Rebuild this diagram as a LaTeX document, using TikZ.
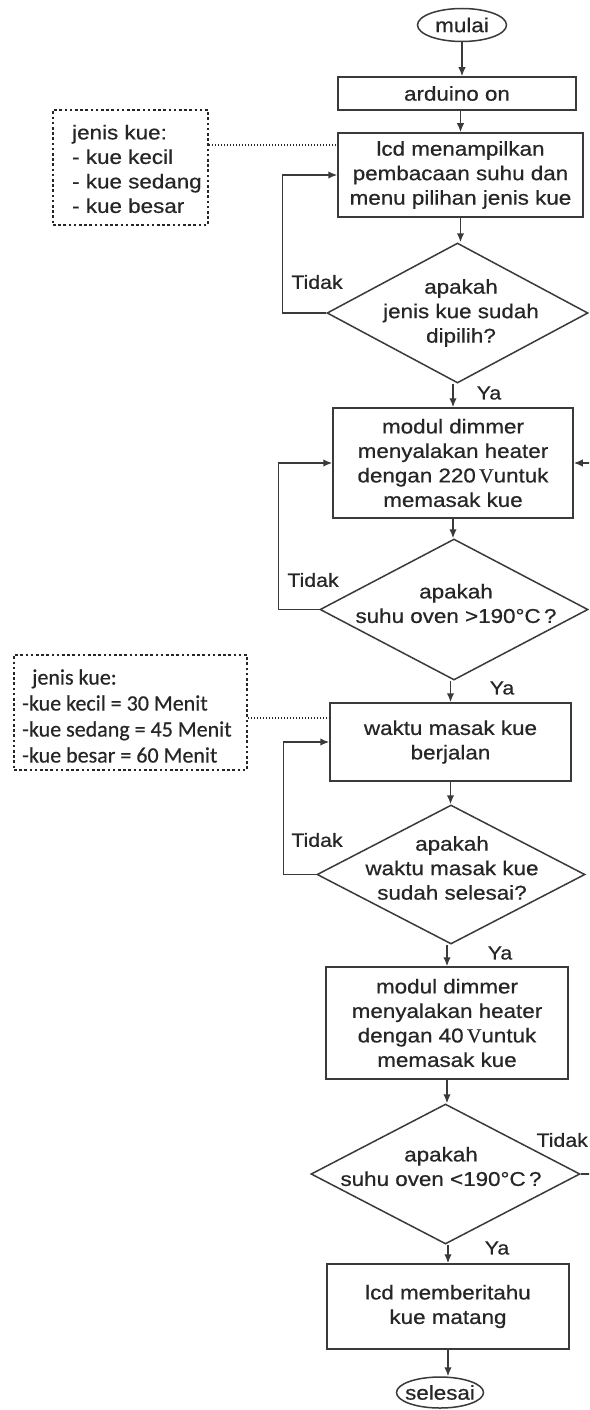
\documentclass[tikz,border=0pt]{standalone}
\usepackage{fontspec}
\setmainfont{Liberation Sans}[FakeStretch=1.12,FakeBold=0.6]
\newfontfamily\calib{Carlito}[FakeBold=0.5]
\newfontfamily\serifv{Liberation Serif}[FakeBold=0.6]
\usetikzlibrary{shapes.geometric,arrows.meta,calc}

\definecolor{ink}{HTML}{262626}
\definecolor{edge}{HTML}{3A3A3A}
\newcommand\boxfont{\fontsize{20}{24.5}\selectfont}
\newcommand\labfont{\fontsize{19}{22}\selectfont}
\newcommand\notefont{\calib\fontsize{22}{26}\selectfont}
\newcommand\degc{°C}

\begin{document}
\begin{tikzpicture}[x=1pt,y=-1pt,
  every node/.style={text=ink},
  procbox/.style={draw=edge, line width=1.5pt, rectangle, inner sep=0pt, align=center, font=\boxfont},
  termnode/.style={draw=edge, line width=1.5pt, ellipse, inner sep=0pt},
  decision/.style={draw=edge, line width=1.5pt, diamond, inner sep=0pt},
  boxtext/.style={align=center, inner sep=0pt, font=\boxfont},
  branch/.style={font=\labfont, inner sep=0pt},
  infobox/.style={draw=ink, line width=2pt, dash pattern=on 2.6pt off 2.6pt, inner sep=0pt},
  flow/.style={draw=edge, line width=1.5pt, -{Latex[length=9pt,width=7.5pt]}},
  note/.style={draw=ink, line width=1.3pt, dash pattern=on 1.4pt off 1.6pt},
]
\useasboundingbox (0,0) rectangle (589,1410);
\clip (0,0) rectangle (589,1410);
\fill[white] (0,0) rectangle (589,1410);

% terminals
\node[termnode, minimum width=89pt, minimum height=33pt] (mulai) at (462,25) {};
\node[boxtext] (mulait) at (mulai) {mulai};
\node[termnode, minimum width=87pt, minimum height=31pt] (selesai) at (440,1392.5) {};
\node[boxtext] (selesait) at (selesai) {selesai};

% process steps
\node[procbox, minimum width=238pt, minimum height=33pt] (ard) at (457,93.5) {arduino on};
\node[procbox, minimum width=245pt, minimum height=84pt] (lcd1) at (460.5,175)
  {lcd menampilkan\\pembacaan suhu dan\\menu pilihan jenis kue};
\node[procbox, minimum width=240pt, minimum height=110pt] (modul1) at (453,463)
  {modul dimmer\\menyalakan heater\\dengan 220\,{\serifv V}untuk\\memasak kue};
\node[procbox, minimum width=241pt, minimum height=78pt] (waktu) at (450.5,742)
  {waktu masak kue\\berjalan};
\node[procbox, minimum width=242pt, minimum height=112pt] (modul2) at (447,1023)
  {modul dimmer\\menyalakan heater\\dengan 40\,{\serifv V}untuk\\memasak kue};
\node[procbox, minimum width=242pt, minimum height=85pt] (lcd2) at (448,1306.5)
  {lcd memberitahu\\kue matang};

% decisions
\node[decision, minimum width=261pt, minimum height=140pt] (dia1) at (457.5,313) {};
\node[boxtext] (dia1t) at (461,313) {apakah\\jenis kue sudah\\dipilih?};
\node[decision, minimum width=268pt, minimum height=141pt] (dia2) at (454,609.5) {};
\node[boxtext] (dia2t) at (456,603.5) {apakah\\suhu oven >190\degc\,?};
\node[decision, minimum width=268pt, minimum height=139pt] (dia3) at (451,874.5) {};
\node[boxtext] (dia3t) at (452,868) {apakah\\waktu masak kue\\sudah selesai?};
\node[decision, minimum width=269pt, minimum height=140pt] (dia4) at (445.5,1174) {};
\node[boxtext] (dia4t) at (441,1166.5) {apakah\\suhu oven <190\degc\,?};

% branch labels
\node[branch] (t1) at (317,282) {Tidak};
\node[branch] (y1) at (489,393) {Ya};
\node[branch] (t2) at (313,580) {Tidak};
\node[branch] (y2) at (502,688) {Ya};
\node[branch] (t3) at (317,840) {Tidak};
\node[branch] (y3) at (500,953) {Ya};
\node[branch, anchor=east] (t4) at (588,1140) {Tidak};
\node[branch] (y4) at (497,1248) {Ya};

% notes
\node[infobox, minimum width=155pt, minimum height=115pt] (info1) at (130.5,167.5) {};
\node[align=left, font=\boxfont, inner sep=0pt, anchor=west] (info1t) at (72,169)
  {jenis kue:\\- kue kecil\\- kue sedang\\- kue besar};
\node[infobox, minimum width=233pt, minimum height=115pt] (info2) at (130.5,712.5) {};
\node[align=left, font=\notefont, inner sep=0pt, anchor=west] (info2t) at (22,716)
  {\hspace*{10pt}jenis kue:\\-kue kecil = 30 Menit\\-kue sedang = 45 Menit\\-kue besar = 60 Menit};

\coordinate (l1) at ([yshift=30pt]lcd1.west);
\draw[note] (l1 -| info1.east) -- (l1);
\coordinate (w1) at ([yshift=24pt]waktu.west);
\draw[note] (w1 -| info2.east) -- (w1);

% main flow
\draw[flow] (mulai.south) -- (mulai.south |- ard.north);
\draw[flow] (lcd1.north |- ard.south) -- (lcd1.north);
\draw[flow] (lcd1.south) -- (lcd1.south |- dia1.north);
\draw[flow] (modul1.north |- dia1.south) -- (modul1.north);
\draw[flow] (modul1.south) -- (modul1.south |- dia2.north);
\draw[flow] (waktu.north |- dia2.south) -- (waktu.north);
\draw[flow] (waktu.south) -- (waktu.south |- dia3.north);
\draw[flow] (modul2.north |- dia3.south) -- (modul2.north);
\draw[flow] (modul2.south) -- (modul2.south |- dia4.north);
\draw[flow] (lcd2.north |- dia4.south) -- (lcd2.north);
\draw[flow] (lcd2.south) -- (lcd2.south |- selesai.north);

% loops back
\draw[flow] (dia1.west) -- ++(-44,0) |- (lcd1.west);
\draw[flow] (dia2.west) -- ++(-41,0) |- (modul1.west);
\draw[flow] (dia3.west) -- ++(-33,0) |- (waktu.west);
\draw[flow] (dia4.east) -- ++(30,0) |- (modul1.east);
\end{tikzpicture}
\end{document}
